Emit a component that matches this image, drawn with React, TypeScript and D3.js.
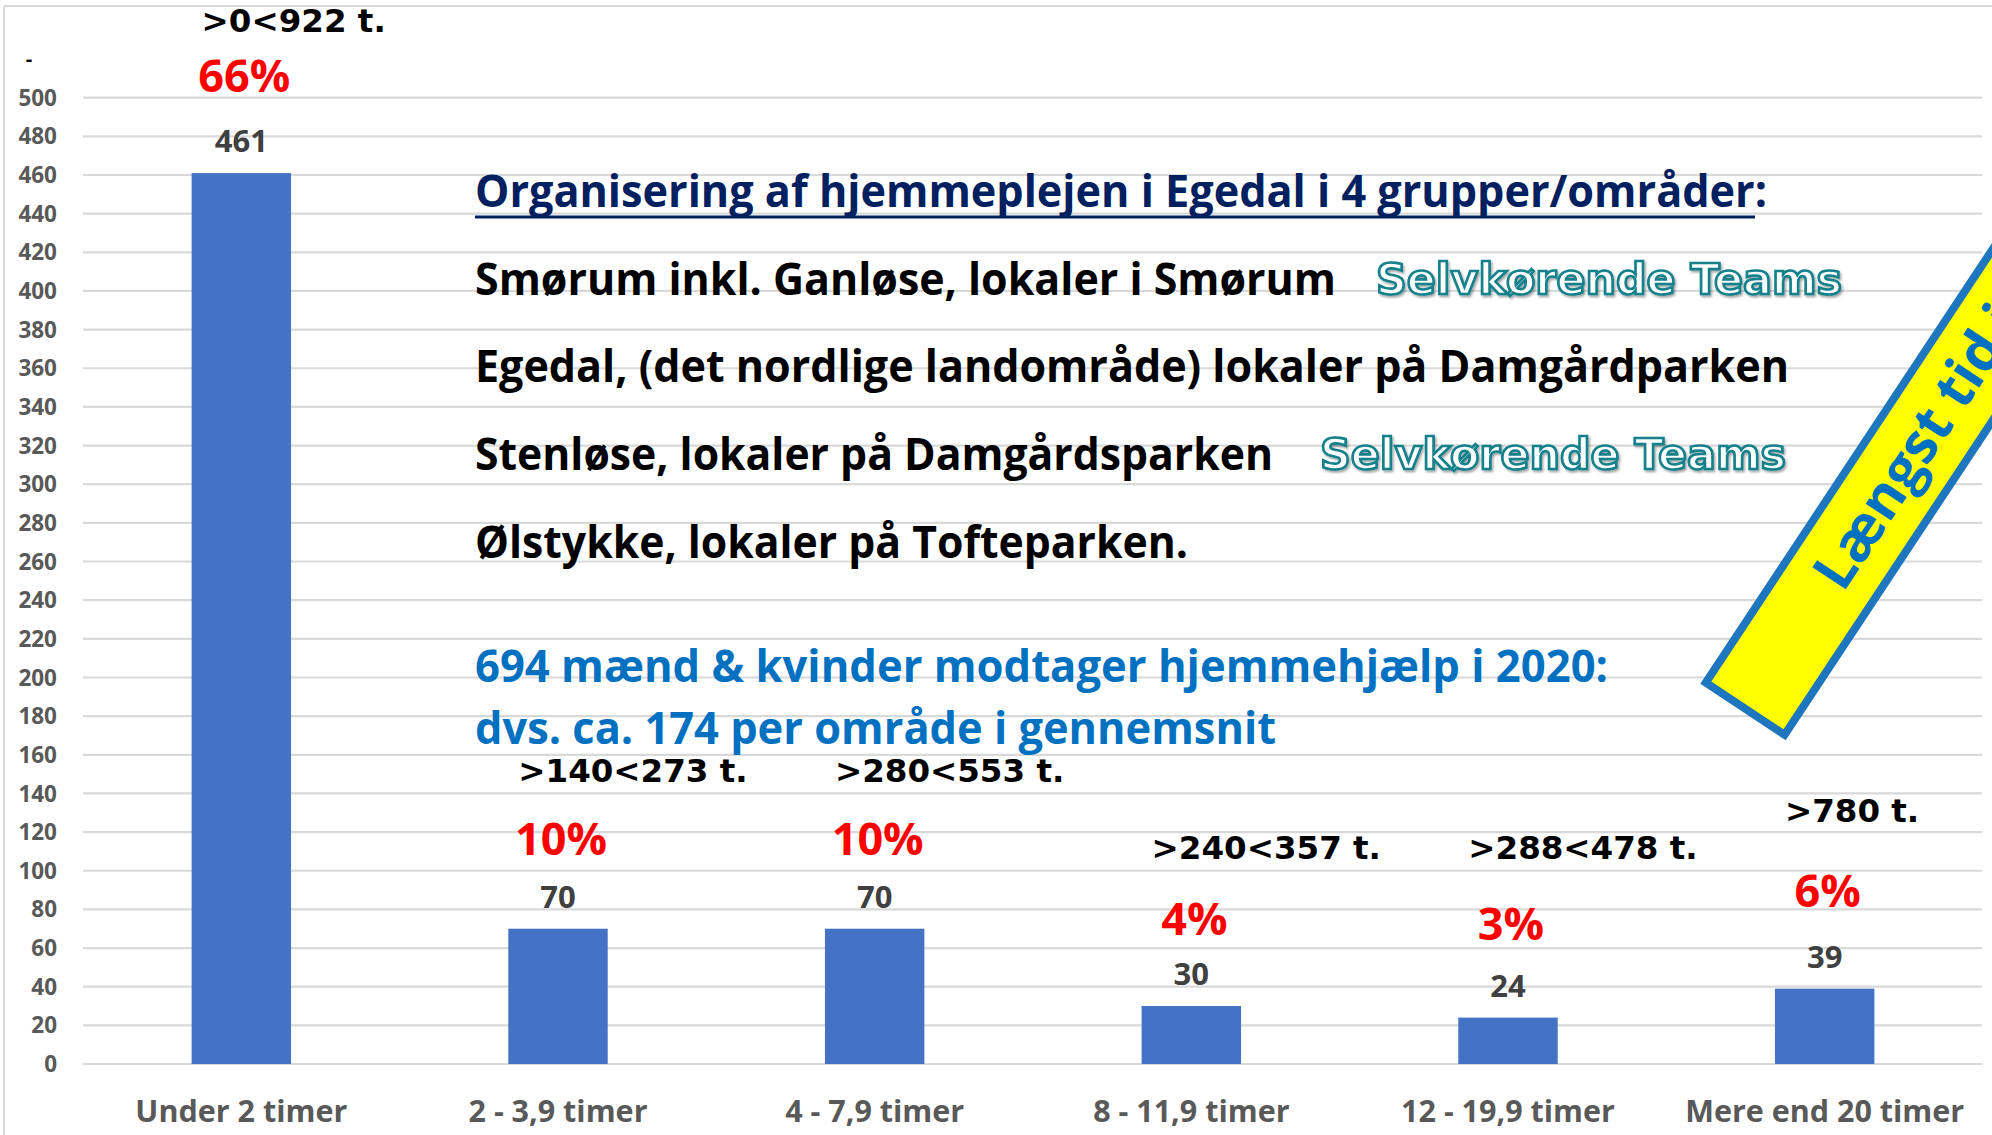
import React from "react";
import * as d3 from "d3";

// ---- data ----
const categories = [
  "Under 2 timer",
  "2 - 3,9 timer",
  "4 - 7,9 timer",
  "8 - 11,9 timer",
  "12 - 19,9 timer",
  "Mere end 20 timer",
];
const values = [461, 70, 70, 30, 24, 39];
const percentLabels = ["66%", "10%", "10%", "4%", "3%", "6%"];
const percentAt = [503, 108, 108, 67, 64, 81]; // label baseline in axis units
const rangeLabels = [">0<922 t.", ">140<273 t.", ">280<553 t.", ">240<357 t.", ">288<478 t.", ">780 t."];
const rangeAt = [534, 146, 146, 106, 106, 125]; // label baseline in axis units
const yTicks = d3.range(0, 501, 20);
const topTickValue = 520;
const topTickLabel = "-";

const headerText = "Organisering af hjemmeplejen i Egedal i 4 grupper/områder:";
const areaLines = [
  "Smørum inkl. Ganløse, lokaler i Smørum",
  "Egedal, (det nordlige landområde) lokaler på Damgårdparken",
  "Stenløse, lokaler på Damgårdsparken",
  "Ølstykke, lokaler på Tofteparken.",
];
const areaTags = ["Selvkørende Teams", "", "Selvkørende Teams", ""];
const summaryLines = [
  "694 mænd & kvinder modtager hjemmehjælp i 2020:",
  "dvs. ca. 174 per område i gennemsnit",
];
const bannerText = "Længst tid i";

// ---- layout ----
const W = 1992;
const H = 1135;
const plot = { left: 83, right: 1983, top: 97.7, bottom: 1064 };
const textX = 475;
const headerBaseline = 207;
const lineStep = 87.7;
const headerWidth = 1292;
const areaWidths = [861, 1314, 798, 713];
const tagX = [1376, 0, 1320, 0];
const tagWidth = 466;
const summaryBaselines = [682, 744];
const summaryWidths = [1133, 801];
const mainFont = "'Open Sans', 'Noto Sans', sans-serif";
const wideFont = "'DejaVu Sans', Verdana, sans-serif";

export default function App() {
  const x = d3
    .scaleBand<string>()
    .domain(categories)
    .range([plot.left, plot.right])
    .paddingInner(0.686)
    .paddingOuter(0.343);
  const y = d3.scaleLinear().domain([0, 500]).range([plot.bottom, plot.top]);
  const bw = x.bandwidth();

  return (
    <svg
      width={W}
      height={H}
      viewBox={`0 0 ${W} ${H}`}
      style={{ position: "fixed", left: 0, top: 0, display: "block", background: "#fff" }}
    >
      <defs>
        <filter id="tagShadow" x="-5%" y="-20%" width="110%" height="150%">
          <feDropShadow dx="1.5" dy="2" stdDeviation="1" floodColor="#000" floodOpacity="0.35" />
        </filter>
      </defs>
      <rect x={0} y={0} width={W} height={H} fill="#fff" />
      {/* chart frame */}
      <line x1={4} x2={4} y1={6} y2={H} stroke="#d9d9d9" strokeWidth={2} />
      <line x1={4} x2={W} y1={6} y2={6} stroke="#d9d9d9" strokeWidth={2} />

      {/* gridlines */}
      {yTicks.map((t) => (
        <line key={"g" + t} x1={plot.left} x2={plot.right - 1} y1={y(t)} y2={y(t)} stroke="#d9d9d9" strokeWidth={2.2} />
      ))}
      {/* y tick labels */}
      {yTicks.map((t) => (
        <text
          key={"t" + t}
          x={57}
          y={y(t)}
          dy="0.36em"
          textAnchor="end"
          fontFamily={mainFont}
          fontWeight={700}
          fontSize={22.5}
          fill="#595959"
        >
          {t}
        </text>
      ))}
      <text x={29} y={y(topTickValue)} dy="0.36em" textAnchor="middle" fontFamily={mainFont} fontWeight={700} fontSize={20} fill="#000">
        {topTickLabel}
      </text>

      {/* bars */}
      {categories.map((c, i) => (
        <rect key={"b" + c} x={x(c)} y={y(values[i])} width={bw} height={y(0) - y(values[i])} fill="#4472C4" />
      ))}
      {/* value labels */}
      {categories.map((c, i) => (
        <text
          key={"v" + c}
          x={(x(c) as number) + bw / 2}
          y={y(values[i]) - 21}
          textAnchor="middle"
          fontFamily={mainFont}
          fontWeight={700}
          fontSize={31}
          fill="#404040"
        >
          {values[i]}
        </text>
      ))}
      {/* category labels */}
      {categories.map((c) => (
        <text
          key={"c" + c}
          x={(x(c) as number) + bw / 2}
          y={1122}
          textAnchor="middle"
          fontFamily={mainFont}
          fontWeight={700}
          fontSize={30.5}
          fill="#595959"
        >
          {c}
        </text>
      ))}
      {/* percent labels */}
      {categories.map((c, i) => (
        <text
          key={"p" + c}
          x={(x(c) as number) + bw / 2 + 3}
          y={y(percentAt[i])}
          textAnchor="middle"
          fontFamily={mainFont}
          fontWeight={700}
          fontSize={45}
          fill="#FF0000"
        >
          {percentLabels[i]}
        </text>
      ))}
      {/* range labels */}
      {categories.map((c, i) => (
        <text
          key={"r" + c}
          x={(x(c) as number) + 10}
          y={y(rangeAt[i])}
          textAnchor="start"
          fontFamily={wideFont}
          fontWeight={700}
          fontSize={32.5}
          fill="#000"
        >
          {rangeLabels[i]}
        </text>
      ))}

      {/* info text block */}
      <text
        x={textX}
        y={headerBaseline}
        fontFamily={mainFont}
        fontWeight={700}
        fontSize={45}
        fill="#002060"
        textLength={headerWidth}
        lengthAdjust="spacingAndGlyphs"
      >
        {headerText}
      </text>
      <line x1={textX} x2={1755} y1={217} y2={217} stroke="#002060" strokeWidth={3} />
      {areaLines.map((l, i) => (
        <text
          key={"a" + i}
          x={textX}
          y={headerBaseline + lineStep * (i + 1)}
          fontFamily={mainFont}
          fontWeight={700}
          fontSize={45}
          fill="#000"
          textLength={areaWidths[i]}
          lengthAdjust="spacingAndGlyphs"
        >
          {l}
        </text>
      ))}
      {areaTags.map((t, i) =>
        t ? (
          <text
            key={"tag" + i}
            x={tagX[i]}
            y={headerBaseline + lineStep * (i + 1) - 1}
            fontFamily={wideFont}
            fontWeight={700}
            fontSize={42}
            fill="#ffffff"
            stroke="#12808b"
            strokeWidth={2.6}
            textLength={tagWidth}
            lengthAdjust="spacingAndGlyphs"
            filter="url(#tagShadow)"
          >
            {t}
          </text>
        ) : null
      )}
      {summaryLines.map((l, i) => (
        <text
          key={"s" + i}
          x={textX}
          y={summaryBaselines[i]}
          fontFamily={mainFont}
          fontWeight={700}
          fontSize={45}
          fill="#0070C0"
          textLength={summaryWidths[i]}
          lengthAdjust="spacingAndGlyphs"
        >
          {l}
        </text>
      ))}

      {/* banner */}
      <g transform="translate(1743,712) rotate(-56.5)">
        <rect x={4} y={-47.25} width={900} height={94.5} fill="#FFFF00" stroke="#1E76BE" strokeWidth={8} />
        <text x={154} y={18} fontFamily={mainFont} fontWeight={700} fontSize={56} fill="#0070C0">
          {bannerText}
        </text>
      </g>
    </svg>
  );
}
